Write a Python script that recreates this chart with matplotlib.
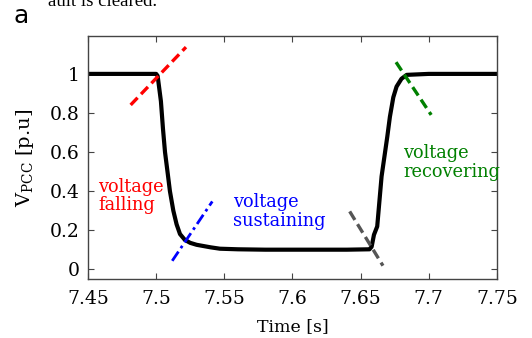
import numpy as np
import matplotlib
matplotlib.use("Agg")
import matplotlib.pyplot as plt

plt.rcParams['font.family'] = 'DejaVu Serif'
plt.rcParams['mathtext.fontset'] = 'dejavuserif'

# V_PCC trace
t = [7.45, 7.47, 7.49, 7.5, 7.5011, 7.5035, 7.5050, 7.5065, 7.5085, 7.5101, 7.5126, 7.5150,
     7.5175, 7.5211, 7.5250, 7.5297, 7.54, 7.5468, 7.56, 7.58, 7.60, 7.62, 7.64, 7.6565,
     7.6581, 7.6598, 7.6622, 7.6654, 7.6696, 7.6715, 7.6740, 7.6764, 7.6800, 7.6838, 7.70,
     7.72, 7.75]
v = [1.0, 1.0, 1.0, 1.0, 0.99, 0.86, 0.72, 0.60, 0.49, 0.40, 0.30, 0.23,
     0.18, 0.15, 0.135, 0.125, 0.112, 0.105, 0.102, 0.10, 0.10, 0.10, 0.10, 0.102,
     0.115, 0.176, 0.219, 0.475, 0.679, 0.78, 0.88, 0.935, 0.975, 0.995, 1.0,
     1.0, 1.0]

# tangent markers: (t0, v0, t1, v1)
red_seg = [7.4813, 0.841, 7.5219, 1.137]
blue_seg = [7.5118, 0.043, 7.5412, 0.347]
grey_seg = [7.642, 0.296, 7.6664, 0.018]
green_seg = [7.676, 1.06, 7.7018, 0.79]

xticks = [7.45, 7.5, 7.55, 7.6, 7.65, 7.7, 7.75]
xticklabels = ['7.45', '7.5', '7.55', '7.6', '7.65', '7.7', '7.75']
yticks = [0, 0.2, 0.4, 0.6, 0.8, 1.0]
yticklabels = ['0', '0.2', '0.4', '0.6', '0.8', '1']

fig = plt.figure(figsize=(5.32, 3.38), dpi=100)
ax = fig.add_axes([0.1654, 0.1746, 0.7686, 0.7189])

ax.plot(t, v, color='black', lw=3.0, solid_capstyle='round', solid_joinstyle='round')
ax.plot(red_seg[0::2], red_seg[1::2], color='#ff0000', lw=2.4, ls=(0, (3, 1.5)))
ax.plot(blue_seg[0::2], blue_seg[1::2], color='#0000ff', lw=2.0, ls=(0, (4, 1.5, 1, 1.5)))
ax.plot(grey_seg[0::2], grey_seg[1::2], color='#555555', lw=2.4, ls=(0, (3, 1.5)))
ax.plot(green_seg[0::2], green_seg[1::2], color='#008000', lw=2.4, ls=(0, (3, 1.5)))

ax.text(7.4576, 0.375, 'voltage\nfalling', color='#ff0000', fontsize=12.8,
        va='center', ha='left', linespacing=1.05)
ax.text(7.5566, 0.296, 'voltage\nsustaining', color='#0000ff', fontsize=12.8,
        va='center', ha='left', linespacing=1.05)
ax.text(7.6813, 0.547, 'voltage\nrecovering', color='#008000', fontsize=12.8,
        va='center', ha='left', linespacing=1.05)

ax.set_xlim(7.45, 7.75)
ax.set_ylim(-0.05, 1.194)
ax.set_xticks(xticks)
ax.set_xticklabels(xticklabels)
ax.set_yticks(yticks)
ax.set_yticklabels(yticklabels)
ax.tick_params(direction='in', top=True, right=True, labelsize=13.5, length=4,
               color='#444444')
ax.tick_params(axis='x', pad=8)
ax.tick_params(axis='y', pad=6)
for s in ax.spines.values():
    s.set_color('#444444')
    s.set_linewidth(1.0)

ax.set_xlabel('Time [s]', fontsize=12.5, labelpad=7)
ax.set_ylabel(r'V$_{\mathrm{PCC}}$ [p.u]', fontsize=14, labelpad=10)

fig.text(0.026, 0.952, 'a', fontsize=18, family='DejaVu Sans', va='center', ha='left')
fig.text(0.09, 0.997, 'ault is cleared.', fontsize=13.5, family='Liberation Serif',
         va='center', ha='left')

fig.savefig('out.png', dpi=100)
